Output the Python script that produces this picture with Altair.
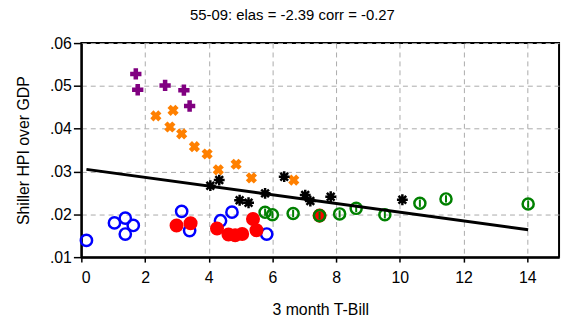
import altair as alt
import pandas as pd

# --- data ---
purple_x = [1.71, 1.77, 2.63, 3.22, 3.40]
purple_y = [0.0528, 0.0491, 0.0501, 0.0490, 0.0453]

orange_x = [2.34, 2.88, 2.78, 3.15, 3.55, 3.95, 4.30, 4.86, 5.34, 6.67]
orange_y = [0.0430, 0.0443, 0.0404, 0.0388, 0.0358, 0.0341, 0.0304, 0.0317, 0.0285, 0.0280]

black_x = [4.05, 4.33, 4.97, 5.25, 5.77, 6.37, 7.03, 7.19, 7.83, 10.08]
black_y = [0.0267, 0.0280, 0.0233, 0.0227, 0.0249, 0.0288, 0.0245, 0.0231, 0.0241, 0.0234]

green_x = [5.77, 6.00, 6.65, 7.48, 8.11, 8.63, 9.53, 10.63, 11.45, 14.03]
green_y = [0.0205, 0.0199, 0.0202, 0.0197, 0.0201, 0.0214, 0.0199, 0.0226, 0.0236, 0.0224]

red_x = [2.99, 3.43, 4.26, 4.62, 4.83, 5.05, 5.39, 5.50, 7.48]
red_y = [0.0174, 0.0179, 0.0167, 0.0153, 0.0151, 0.0154, 0.0189, 0.0163, 0.0197]

blue_x = [0.16, 1.04, 1.38, 1.63, 1.38, 3.15, 3.40, 4.37, 4.73, 5.82]
blue_y = [0.0139, 0.0180, 0.0191, 0.0174, 0.0154, 0.0207, 0.0162, 0.0185, 0.0205, 0.0154]

fit_x = [0.16, 14.03]
fit_y = [0.0305, 0.0164]

title_text = "55-09: elas = -2.39 corr = -0.27"
x_title = "3 month T-Bill"
y_title = "Shiller HPI over GDP"
x_ticks = [0, 2, 4, 6, 8, 10, 12, 14]
y_ticks = [0.01, 0.02, 0.03, 0.04, 0.05, 0.06]

FONT = "Liberation Sans"

xs = alt.Scale(domain=[0, 15], nice=False, zero=False)
ys = alt.Scale(domain=[0.01, 0.06], nice=False, zero=False)

X = alt.X("x:Q", scale=xs, title=x_title,
          axis=alt.Axis(values=x_ticks, grid=True))
Y = alt.Y("y:Q", scale=ys, title=y_title,
          axis=alt.Axis(values=y_ticks, grid=True,
                        labelExpr="substring(format(datum.value, '.2f'), 1)"))


def df(xv, yv):
    return pd.DataFrame({"x": xv, "y": yv})


ASTER = "M-1,0L1,0M0,-1L0,1M-0.71,-0.71L0.71,0.71M-0.71,0.71L0.71,-0.71"
VBAR = "M0,-1L0,1"

blue = alt.Chart(df(blue_x, blue_y)).mark_point(
    shape="circle", filled=False, color="#0000ff", strokeWidth=2.5, size=130, opacity=1
).encode(x=X, y=Y)

red = alt.Chart(df(red_x, red_y)).mark_point(
    shape="circle", filled=True, color="#ff0000", size=200, opacity=1
).encode(x=X, y=Y)

purple = alt.Chart(df(purple_x, purple_y)).mark_point(
    shape="cross", filled=True, color="#800080", size=130, opacity=1
).encode(x=X, y=Y)

orange = alt.Chart(df(orange_x, orange_y)).mark_point(
    shape="cross", angle=45, filled=True, color="#ff8000", size=130, opacity=1
).encode(x=X, y=Y)

black = alt.Chart(df(black_x, black_y)).mark_point(
    shape=ASTER, filled=False, color="#000000", strokeWidth=2.5, size=120, opacity=1
).encode(x=X, y=Y)

green_c = alt.Chart(df(green_x, green_y)).mark_point(
    shape="circle", filled=False, color="#008000", strokeWidth=2.5, size=125, opacity=1
).encode(x=X, y=Y)

green_b = alt.Chart(df(green_x, green_y)).mark_point(
    shape=VBAR, filled=False, color="#008000", strokeWidth=2, size=55, opacity=1
).encode(x=X, y=Y)

fit = alt.Chart(df(fit_x, fit_y)).mark_line(color="black", strokeWidth=3).encode(x=X, y=Y)

chart = alt.layer(blue, red, purple, orange, black, green_c, green_b, fit).properties(
    width=482,
    height=216,
    title=alt.TitleParams(title_text, font=FONT, fontSize=15, fontWeight="normal",
                          color="#000000", anchor="middle", offset=12, dx=-28),
    autosize=alt.AutoSizeParams(type="none"),
    padding={"left": 74, "top": 34, "right": 6, "bottom": 60},
).configure_view(
    stroke="black", strokeWidth=2
).configure_axis(
    labelFont=FONT, titleFont=FONT, labelFontSize=16, titleFontSize=16,
    labelColor="#000000", titleColor="#000000", titleFontWeight="normal",
    domainColor="black", domainWidth=2, tickColor="black", tickWidth=1.5,
    gridColor="#aaaaaa", gridDash=[5, 4], gridWidth=1,
).configure_axisX(
    tickSize=5, labelPadding=8, titlePadding=16
).configure_axisY(
    tickSize=8, labelPadding=2, titlePadding=18
)

chart.save("out.html", embed_options={"renderer": "svg", "actions": False})
